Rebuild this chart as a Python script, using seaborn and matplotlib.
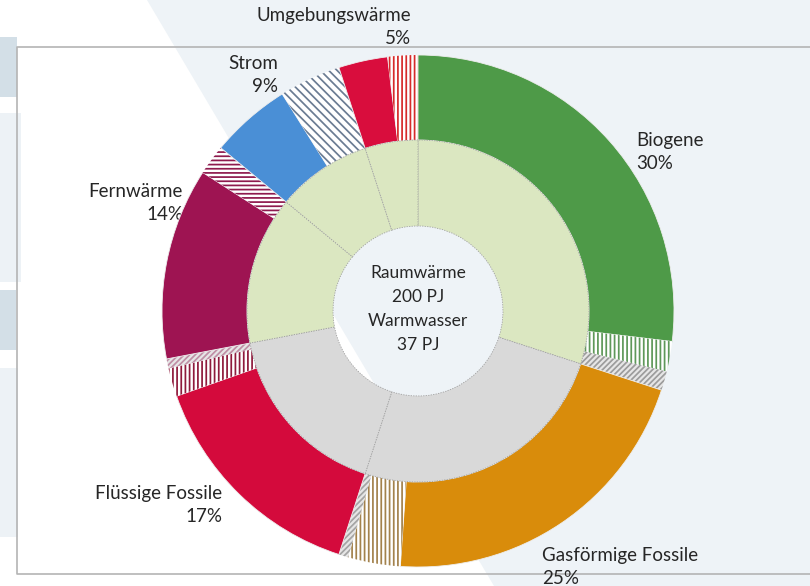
import matplotlib
matplotlib.use("Agg")
import matplotlib.pyplot as plt
from matplotlib.patches import Polygon, Rectangle
import seaborn as sns

# data (percent of total, clockwise from 12 o'clock)
categories = ["Biogene", "Gasförmige Fossile", "Flüssige Fossile", "Fernwärme", "Strom", "Umgebungswärme"]
raumwaerme = [26.9, 21.1, 14.6, 12.1, 5.1, 3.1]
ww_stripes = [1.9, 3.3, 1.8, 1.9, 3.9, 1.9]
ww_fine = [1.2, 0.6, 0.6, 0.0, 0.0, 0.0]
share_labels = ["30%", "25%", "17%", "14%", "9%", "5%"]
groups = ["Andere", "Fossile", "Fossile", "Andere", "Andere", "Andere"]

# styles
solid_colors = ["#4e9a48", "#d98c0b", "#d40a3c", "#9e1452", "#4a8fd6", "#d90d3d"]
stripe_colors = ["#5e9859", "#a3824c", "#8e1a3c", "#8e1a4e", "#6b7c93", "#d62a2a"]
stripe_hatch = ["||||", "||||", "||||", "----", "\\\\\\\\", "||||"]
fine_colors = ["#9c9c9c", "#a4a4a4", "#c08ea6", "#999999", "#999999", "#999999"]
group_colors = {"Andere": "#dbe7c1", "Fossile": "#d9d9d9"}

sns.set_theme(style="white")
plt.rcParams["font.family"] = ["Lato", "DejaVu Sans"]
plt.rcParams["hatch.linewidth"] = 1.25
txt = "#262626"

fig = plt.figure(figsize=(8.1, 5.86), dpi=100)

# slide background
bg = fig.add_axes([0, 0, 1, 1])
bg.set_xlim(0, 810)
bg.set_ylim(586, 0)
bg.axis("off")
bg.add_patch(Polygon([(147, 0), (810, 0), (810, 586), (494, 586)], closed=True,
                     facecolor="#eef3f7", edgecolor="none"))
bg.add_patch(Rectangle((0, 37), 17, 60, facecolor="#d3dfe7", edgecolor="none"))
bg.add_patch(Rectangle((0, 113), 21, 169, facecolor="#edf2f6", edgecolor="none"))
bg.add_patch(Rectangle((0, 290), 16, 60, facecolor="#d3dfe7", edgecolor="none"))
bg.add_patch(Rectangle((0, 368), 18, 169, facecolor="#edf2f6", edgecolor="none"))
bg.plot([810, 17, 17, 810], [47, 47, 574, 574], color="#b4b4b4", lw=1.2)

# donut axes: centre (418, 311), radius 256 px
cx, cy, R = 418, 311, 256
ax = fig.add_axes([(cx - R) / 810, (586 - cy - R) / 586, 2 * R / 810, 2 * R / 586])
ax.patch.set_alpha(0)

vals, faces, hatches, edges = [], [], [], []
for i in range(len(categories)):
    parts = [(raumwaerme[i], solid_colors[i], None, "#eeeeee"),
             (ww_stripes[i], "white", stripe_hatch[i], stripe_colors[i]),
             (ww_fine[i], "#e6e6e6", "//////", fine_colors[i])]
    for v, fc, h, ec in parts:
        if v > 0:
            vals.append(v)
            faces.append(fc)
            hatches.append(h)
            edges.append(ec)

wedges, _ = ax.pie(vals, radius=1.0, startangle=90, counterclock=False, colors=faces,
                   wedgeprops=dict(width=0.332, linewidth=0))
for w, h, ec in zip(wedges, hatches, edges):
    w.set_edgecolor(ec)
    if h:
        w.set_hatch(h)
    else:
        w.set_linewidth(0.6)

totals = [r + s + f for r, s, f in zip(raumwaerme, ww_stripes, ww_fine)]
ax.pie(totals, radius=0.668, startangle=90, counterclock=False,
       colors=[group_colors[g] for g in groups],
       wedgeprops=dict(width=0.336, edgecolor="#a0a0a0", linewidth=0.6, linestyle=(0, (1.5, 1.5))))
ax.set_xlim(-1, 1)
ax.set_ylim(-1, 1)

# labels
lab = dict(fontsize=13.5, color=txt, linespacing=1.45, va="center")
bg.text(411, 27, "Umgebungswärme\n5%", ha="right", multialignment="right", **lab)
bg.text(278, 75, "Strom\n9%", ha="right", multialignment="right", **lab)
bg.text(183, 203, "Fernwärme\n14%", ha="right", multialignment="right", **lab)
bg.text(222, 505, "Flüssige Fossile\n17%", ha="right", multialignment="right", **lab)
bg.text(542, 567, "Gasförmige Fossile\n25%", ha="left", multialignment="left", **lab)
bg.text(636, 152, "Biogene\n30%", ha="left", multialignment="left", **lab)

bg.text(413, 186, "Andere", ha="center", va="center", fontsize=14, fontweight="bold", color="black")
bg.text(445, 427, "Fossile", ha="center", va="center", fontsize=14, fontweight="bold", color="black")
bg.text(cx, 309, "Raumwärme\n200 PJ\nWarmwasser\n37 PJ", ha="center", va="center",
        fontsize=12.5, color=txt, linespacing=1.6)

fig.savefig("out.png", dpi=100)
